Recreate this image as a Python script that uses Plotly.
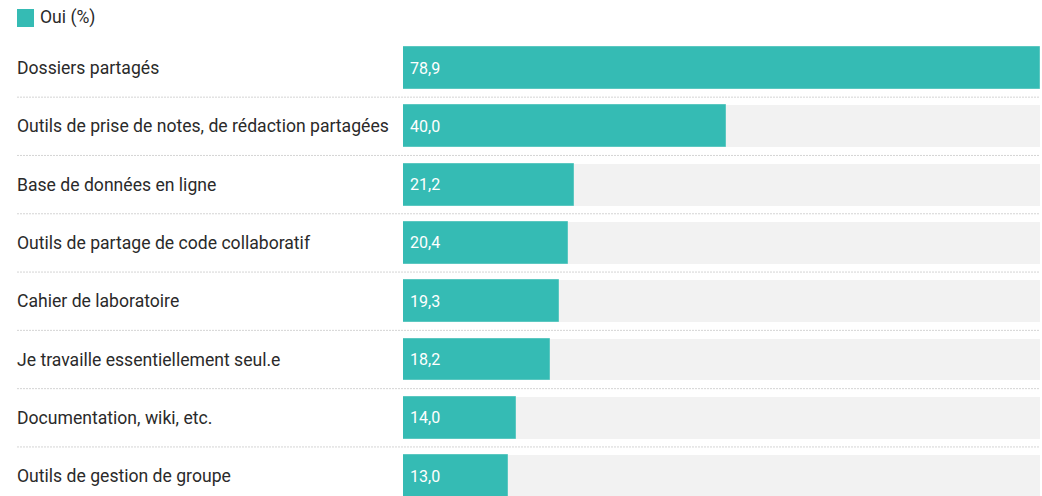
import plotly.graph_objects as go

categories = [
    "Dossiers partagés",
    "Outils de prise de notes, de rédaction partagées",
    "Base de données en ligne",
    "Outils de partage de code collaboratif",
    "Cahier de laboratoire",
    "Je travaille essentiellement seul.e",
    "Documentation, wiki, etc.",
    "Outils de gestion de groupe",
]
values = [78.9, 40.0, 21.2, 20.4, 19.3, 18.2, 14.0, 13.0]
series_name = "Oui (%)"

TEAL = "#35bbb4"
GRAY = "#f2f2f2"
TXT = "#2a2a2a"
W, H = 1042, 496
vmax = max(values)
LABEL_SIZE = 17.6

fig = go.Figure()
fig.add_trace(go.Bar(
    y=categories, x=[vmax] * len(categories), orientation="h",
    marker=dict(color=GRAY, line=dict(width=0)), width=0.72,
    showlegend=False, hoverinfo="skip",
))
fig.add_trace(go.Bar(
    y=categories, x=values, orientation="h", name=series_name,
    marker=dict(color=TEAL, line=dict(width=1, color="#5cc8c1")), width=0.72,
    showlegend=False,
))

# legend (drawn manually to match swatch size/spacing)
fig.add_shape(type="rect", xref="paper", yref="paper",
              x0=17 / W, x1=34 / W, y0=1 - 27 / H, y1=1 - 9 / H,
              fillcolor=TEAL, line=dict(width=0))
fig.add_annotation(x=38 / W, xref="paper", y=1 - 18 / H, yref="paper",
                   text=series_name, showarrow=False, xanchor="left", yanchor="middle",
                   font=dict(family="Roboto", size=LABEL_SIZE, color=TXT))

for c, v in zip(categories, values):
    fig.add_annotation(
        x=0, xref="paper", y=c, yref="y", text=c, showarrow=False,
        xanchor="left", xshift=15, font=dict(family="Roboto", size=LABEL_SIZE, color=TXT),
    )
    fig.add_annotation(
        x=0, xref="x", y=c, yref="y", text=f"{v:.1f}".replace(".", ","), showarrow=False,
        xanchor="left", xshift=5, font=dict(family="Roboto", size=16, color="white"),
    )
for i in range(len(categories) - 1):
    fig.add_shape(
        type="line", xref="paper", yref="y", x0=17 / W, x1=1040 / W, y0=i + 0.5, y1=i + 0.5,
        line=dict(color="#d4d4d4", width=1, dash="2px,1px"),
    )

pitch = 58.3
top = -68 / pitch
bottom = (H - 68) / pitch
fig.update_layout(
    width=W, height=H, margin=dict(l=0, r=0, t=0, b=0),
    paper_bgcolor="white", plot_bgcolor="white",
    barmode="overlay", bargap=0, showlegend=False,
    font=dict(family="Roboto", size=16, color=TXT),
    xaxis=dict(domain=[403 / W, 1040 / W], range=[0, vmax], visible=False, fixedrange=True),
    yaxis=dict(type="category", categoryorder="array", categoryarray=categories,
               range=[bottom, top], visible=False, fixedrange=True),
)
fig.write_html(
    "out.html",
    config={"displayModeBar": False},
    post_script="document.body.style.margin='0';document.body.style.overflow='hidden';",
)
